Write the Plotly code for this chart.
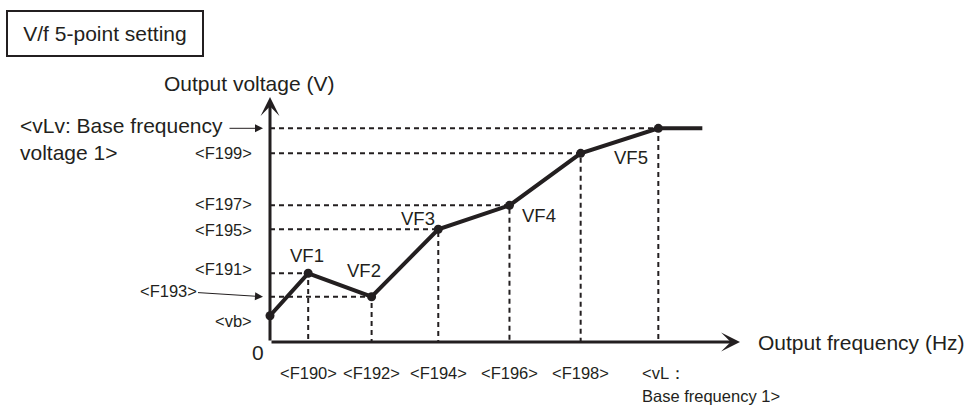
import plotly.graph_objects as go

# ---------------- data ----------------
# characteristic points: vb, VF1 .. VF5, base frequency point
point_names = ["vb", "VF1", "VF2", "VF3", "VF4", "VF5", "base"]
freq_pts = [0.0, 5.9, 15.7, 26.0, 37.0, 48.0, 60.0]      # output frequency (Hz)
volt_pts = [24.6, 64.3, 42.4, 105.5, 127.9, 176.6, 200.0]  # output voltage (V)
freq_end = 66.8                                           # flat part after base frequency

x_tick_labels = ["<F190>", "<F192>", "<F194>", "<F196>", "<F198>"]
y_tick_labels = ["<vb>", "<F191>", "<F193>", "<F195>", "<F197>", "<F199>"]
vf_labels = ["VF1", "VF2", "VF3", "VF4", "VF5"]

x_max = 72.62   # axis extent (arrow tip)
y_max = 229.3

title_text = "V/f 5-point setting"
x_title = "Output frequency (Hz)"
y_title = "Output voltage (V)"
base_v_label = "<vLv: Base frequency<br>voltage 1>"
base_f_label1 = "<vL："
base_f_label2 = "Base frequency 1>"

# ---------------- styles ----------------
INK = "#231f20"
FONT = "Liberation Sans, Arial, Helvetica, sans-serif"
SMALL = 16.5
MED = 18.5
BIG = 21


def esc(s):
    return s.replace("<br>", "\x00").replace("<", "&lt;").replace(">", "&gt;").replace("\x00", "<br>")


fig = go.Figure()

# dashed guide lines (horizontal to y axis, vertical to x axis)
gx, gy = [], []
for f, v in zip(freq_pts[1:], volt_pts[1:]):
    gx += [0, f, f, None]
    gy += [v, v, 0, None]
fig.add_trace(go.Scatter(x=gx, y=gy, mode="lines",
                         line=dict(color=INK, width=2, dash="5px,4px"),
                         hoverinfo="skip", cliponaxis=False))

# V/f curve
fig.add_trace(go.Scatter(x=freq_pts + [freq_end], y=volt_pts + [volt_pts[-1]],
                         mode="lines", line=dict(color=INK, width=4),
                         hoverinfo="skip", cliponaxis=False))
fig.add_trace(go.Scatter(x=freq_pts, y=volt_pts, mode="markers",
                         marker=dict(color=INK, size=9),
                         hoverinfo="skip", cliponaxis=False))

ann = []

# axes with arrows
for (tx, ty) in [(x_max, 0), (0, y_max)]:
    ann.append(dict(x=tx, y=ty, ax=0, ay=0, xref="x", yref="y", axref="x", ayref="y",
                    text="", showarrow=True, arrowhead=3, arrowwidth=3, arrowsize=1.05,
                    arrowcolor=INK, standoff=0))

tfont = dict(family=FONT, size=SMALL, color=INK)

# y "tick" labels
y_shifts = [-5, 4, 0, -1, 1, 0]
for i, (lab, v) in enumerate(zip(y_tick_labels, volt_pts[:6])):
    if lab == "<F193>":
        ann.append(dict(x=0, y=v, xref="x", yref="y", text=esc(lab), font=tfont,
                        showarrow=True, arrowhead=2, arrowsize=1.6, arrowwidth=1,
                        arrowcolor=INK, xshift=-7, ax=-95, ay=-6, standoff=0))
    else:
        ann.append(dict(x=0, y=v, xref="x", yref="y", text=esc(lab), font=tfont,
                        showarrow=False, xanchor="right", yanchor="middle",
                        xshift=-16, yshift=y_shifts[i]))

# base voltage label with arrow
ann.append(dict(x=0, y=volt_pts[-1], xref="x", yref="y", text="",
                showarrow=True, arrowhead=2, arrowsize=1.6, arrowwidth=1,
                arrowcolor=INK, xshift=-7, ax=-35, ay=0, standoff=0))
ann.append(dict(x=0, y=volt_pts[-1], xref="x", yref="y", text=esc(base_v_label),
                font=dict(family=FONT, size=BIG, color=INK), align="left",
                showarrow=False, xanchor="left", yanchor="top", xshift=-252, yshift=16))

# x "tick" labels
for lab, f in zip(x_tick_labels, freq_pts[1:6]):
    ann.append(dict(x=f, y=0, xref="x", yref="y", text=esc(lab), font=tfont,
                    showarrow=False, xanchor="center", yanchor="middle", yshift=-31))
ann.append(dict(x=freq_pts[-1], y=0, xref="x", yref="y", text=esc(base_f_label1), font=tfont,
                showarrow=False, xanchor="left", yanchor="middle", xshift=-18, yshift=-31))
ann.append(dict(x=freq_pts[-1], y=0, xref="x", yref="y", text=esc(base_f_label2), font=tfont,
                showarrow=False, xanchor="left", yanchor="middle", xshift=-18, yshift=-54))

# origin
ann.append(dict(x=0, y=0, xref="x", yref="y", text="0",
                font=dict(family=FONT, size=BIG, color=INK),
                showarrow=False, xanchor="center", yanchor="middle", xshift=-12, yshift=-10))

# VF point labels
vf_offsets = [(-1, 18), (-8, 26), (-20, 11), (30, -10), (50, -4)]
for lab, f, v, (dx, dy) in zip(vf_labels, freq_pts[1:6], volt_pts[1:6], vf_offsets):
    ann.append(dict(x=f, y=v, xref="x", yref="y", text=lab,
                    font=dict(family=FONT, size=MED, color=INK),
                    showarrow=False, xanchor="center", yanchor="middle", xshift=dx, yshift=dy))

# axis titles
ann.append(dict(x=x_max, y=0, xref="x", yref="y", text=x_title,
                font=dict(family=FONT, size=BIG, color=INK),
                showarrow=False, xanchor="left", yanchor="middle", xshift=16, yshift=0))
ann.append(dict(x=0, y=y_max, xref="x", yref="y", text=y_title,
                font=dict(family=FONT, size=BIG, color=INK),
                showarrow=False, xanchor="center", yanchor="middle", xshift=-21, yshift=14))

# boxed title
ann.append(dict(x=0, y=1, xref="paper", yref="paper", text=title_text,
                font=dict(family=FONT, size=BIG, color=INK),
                showarrow=False, xanchor="left", yanchor="top", xshift=-264, yshift=87,
                bordercolor=INK, borderwidth=2, borderpad=0, width=194, height=43,
                align="center", valign="middle"))

fig.update_layout(
    width=969, height=405, autosize=False,
    margin=dict(l=270, r=229, t=97, b=63, pad=0),
    paper_bgcolor="white", plot_bgcolor="white",
    showlegend=False,
    xaxis=dict(range=[0, x_max], visible=False, fixedrange=True),
    yaxis=dict(range=[0, y_max], visible=False, fixedrange=True),
    annotations=ann,
)

fig.write_html(
    "out.html",
    config={"displayModeBar": False},
    post_script="document.body.style.margin='0';document.body.style.overflow='hidden';",
)
